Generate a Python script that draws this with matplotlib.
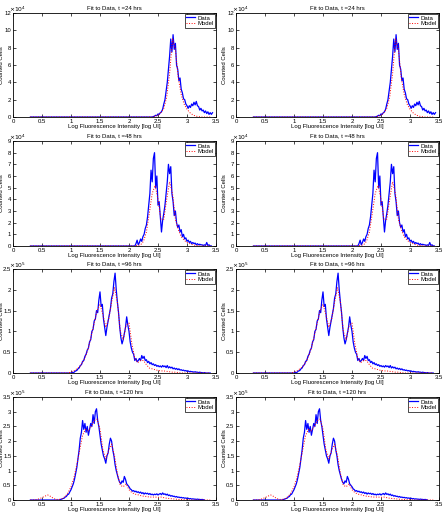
import numpy as np
import matplotlib
matplotlib.use('Agg')
import matplotlib.pyplot as plt

plt.rcParams['font.family'] = ['Liberation Sans', 'DejaVu Sans']

# panel titles, y-limits (in units of the exponent) and exponents
titles = ['Fit to Data, t =24 hrs', 'Fit to Data, t =48 hrs',
          'Fit to Data, t =96 hrs', 'Fit to Data, t =120 hrs']
exponents = [4, 4, 5, 5]
ymax = [12, 9, 2.5, 3.5]
ystep = [2, 1, 0.5, 0.5]

# measured histograms: first bin (log UI), bin step 0.02, values (x 10^exp)
data_start = [2.40, 2.10, 1.00, 0.80]
data_24 = [0, 0.05, 0.1, 0.2, 0.15, 0.35, 0.3, 0.5, 0.6, 0.9,
           1.5, 2.0, 3.0, 4.0, 5.5, 7.0, 9.0, 7.5, 9.5, 7.8,
           8.5, 6.0, 5.5, 4.2, 4.5, 3.2, 2.8, 2.1, 2.0, 1.5,
           1.3, 1.0, 1.3, 1.1, 1.5, 1.3, 1.7, 1.4, 1.8, 1.3,
           1.2, 0.8, 1.0, 0.7, 0.8, 0.5, 0.7, 0.4, 0.6, 0.3,
           0.5, 0.3, 0.5]
data_48 = [0, 0.2, 0.5, 0.1, 0.3, 0.6, 0.4, 0.8, 1.0, 1.5,
           1.8, 2.5, 3.5, 4.5, 6.5, 5.5, 7.5, 8.0, 5.0, 6.0,
           3.5, 3.8, 2.5, 1.2, 2.2, 2.8, 3.5, 4.5, 5.5, 7.0,
           6.2, 6.8, 4.5, 3.8, 2.6, 3.0, 2.0, 1.6, 1.8, 1.2,
           1.4, 0.8, 1.0, 0.6, 0.7, 0.4, 0.5, 0.3, 0.4, 0.2,
           0.3, 0.2, 0.25, 0.1, 0.2, 0.1, 0.15, 0.1, 0.1, 0.05,
           0.1, 0.05, 0.3, 0.05, 0.1, 0.0, 0.0]
data_96 = [0, 0.02, 0.0, 0.03, 0.05, 0.06, 0.1, 0.12, 0.18, 0.2,
           0.28, 0.3, 0.4, 0.45, 0.55, 0.6, 0.75, 0.8, 1.0, 1.05,
           1.25, 1.3, 1.5, 1.45, 1.75, 1.95, 1.6, 1.65, 1.3, 1.1,
           0.9, 1.1, 1.25, 1.4, 1.55, 1.8, 1.9, 2.2, 2.4, 2.0,
           1.7, 1.45, 1.1, 0.85, 0.7, 0.8, 0.95, 1.1, 1.35, 1.15,
           1.0, 0.75, 0.6, 0.5, 0.45, 0.3, 0.35, 0.27, 0.3, 0.35,
           0.3, 0.42, 0.35, 0.4, 0.3, 0.32, 0.25, 0.28, 0.22, 0.25,
           0.2, 0.22, 0.18, 0.2, 0.16, 0.18, 0.15, 0.17, 0.14, 0.18,
           0.15, 0.17, 0.13, 0.18, 0.12, 0.15, 0.12, 0.14, 0.1, 0.12,
           0.09, 0.11, 0.08, 0.1, 0.07, 0.08, 0.06, 0.07, 0.05, 0.06,
           0.04, 0.05, 0.03, 0.04, 0.03, 0.03, 0.02, 0.03, 0.02, 0.02,
           0.01, 0.02, 0.01, 0.01, 0.0, 0.01, 0.0, 0.0, 0.0, 0.0, 0.0]
data_120 = [0.0, 0.02, 0.03, 0.05, 0.06, 0.1, 0.12, 0.18, 0.2, 0.28,
            0.35, 0.45, 0.55, 0.7, 0.9, 1.1, 1.4, 1.7, 2.1, 2.3,
            2.7, 2.4, 2.6, 2.3, 2.5, 2.2, 2.4, 2.6, 2.5, 2.9,
            2.6, 3.0, 3.1, 2.7, 2.5, 2.2, 1.9, 1.7, 1.5, 1.4,
            1.25, 1.5, 1.6, 1.9, 2.1, 2.0, 1.7, 1.5, 1.2, 1.0,
            0.85, 0.7, 0.6, 0.55, 0.65, 0.6, 0.8, 0.7, 0.55, 0.5,
            0.45, 0.38, 0.35, 0.3, 0.32, 0.28, 0.3, 0.26, 0.28, 0.24,
            0.27, 0.22, 0.25, 0.2, 0.24, 0.21, 0.23, 0.19, 0.22, 0.18,
            0.2, 0.17, 0.2, 0.18, 0.21, 0.17, 0.2, 0.22, 0.18, 0.24,
            0.19, 0.21, 0.17, 0.2, 0.15, 0.17, 0.13, 0.15, 0.12, 0.13,
            0.1, 0.12, 0.09, 0.1, 0.08, 0.09, 0.07, 0.08, 0.06, 0.07,
            0.05, 0.06, 0.04, 0.05, 0.03, 0.04, 0.03, 0.03, 0.02, 0.03,
            0.02, 0.02, 0.01, 0.02, 0.01, 0.0]

# model fits on a 0.05 grid starting at 0.30 log UI (x 10^exp)
model_24 = [0.0] * 43 + [0.1, 0.2, 0.5, 1.0, 2.3, 5.0, 9.0, 7.8, 4.5, 2.6,
                         1.5, 0.9, 0.5, 0.25, 0.1, 0.05] + [0.0] * 4
model_48 = [0.0] * 37 + [0.05, 0.1, 0.4, 1.2, 2.8, 4.5, 5.2, 4.0, 2.3, 2.3,
                         4.0, 5.5, 4.5, 2.3, 1.4, 0.8, 0.5, 0.3, 0.2, 0.1,
                         0.05, 0.02] + [0.0] * 4
model_96 = [0.0] * 14 + [0.02, 0.05, 0.1, 0.15, 0.25, 0.4, 0.6, 0.9, 1.2, 1.5,
                         1.65, 1.4, 1.1, 1.3, 1.7, 2.05, 1.7, 1.0, 0.8, 1.15,
                         1.2, 0.7, 0.35, 0.25, 0.3, 0.3, 0.2, 0.12, 0.1, 0.08,
                         0.06, 0.05, 0.05, 0.04, 0.03, 0.02, 0.02, 0.01] + [0.0] * 11
model_120 = [0.0, 0.0, 0.01, 0.04, 0.08, 0.13, 0.17, 0.12, 0.05, 0.02,
             0.02, 0.05, 0.12, 0.25, 0.45, 0.75, 1.2, 1.7, 2.2, 2.4,
             2.35, 2.5, 2.7, 2.75, 2.4, 1.7, 1.4, 1.7, 1.9, 1.5,
             0.9, 0.5, 0.45, 0.55, 0.35, 0.25, 0.2, 0.18, 0.15, 0.13,
             0.12, 0.1, 0.1, 0.1, 0.09, 0.1, 0.08, 0.06, 0.05, 0.04,
             0.03, 0.02, 0.02, 0.01, 0.01] + [0.0] * 8

datasets = [data_24, data_48, data_96, data_120]
models = [model_24, model_48, model_96, model_120]

W, H = 446, 512
fig = plt.figure(figsize=(W / 100, H / 100), dpi=100)

col_left = [13, 236]
ax_w = 203
row_tb = [(13, 117), (141, 246), (269, 373), (397, 500)]

fs = 4.3
for r in range(4):
    vals = np.array(datasets[r])
    xd = np.concatenate([[0.30], data_start[r] + 0.02 * np.arange(len(vals))])
    yd = np.concatenate([[0.0], vals])
    mv = np.array(models[r])
    xm = 0.30 + 0.05 * np.arange(len(mv))
    top, bot = row_tb[r]
    for c in range(2):
        ax = fig.add_axes([col_left[c] / W, 1 - bot / H, ax_w / W, (bot - top) / H])
        ax.plot(xd, yd, color='#0000ff', lw=0.9, label='Data')
        ax.plot(xm, mv, color='#ff0000', lw=0.7, ls=':', label='Model')
        ax.set_xlim(0, 3.5)
        ax.set_ylim(0, ymax[r])
        ax.set_xticks(np.arange(0, 3.51, 0.5))
        ax.set_xticklabels(['0', '0.5', '1', '1.5', '2', '2.5', '3', '3.5'])
        yt = np.arange(0, ymax[r] + 1e-9, ystep[r])
        ax.set_yticks(yt)
        ax.set_yticklabels(['%g' % v for v in yt])
        ax.text(-0.02, 0.995, r'$\times10^{%d}$' % exponents[r], transform=ax.transAxes,
                fontsize=fs, ha='left', va='bottom')
        ax.tick_params(direction='in', labelsize=fs, length=2, width=0.5, pad=1.2,
                       top=True, right=True)
        for s in ax.spines.values():
            s.set_linewidth(0.6)
        ax.set_title(titles[r], fontsize=fs, pad=3)
        ax.set_xlabel('Log Fluorescence Intensity [log UI]', fontsize=fs, labelpad=0.3)
        ax.set_ylabel('Counted Cells', fontsize=fs)
        ax.yaxis.set_label_coords(-9.0 / ax_w, 0.5)
        leg = ax.legend(loc='upper right', fontsize=fs, handlelength=1.6,
                        borderpad=0.2, labelspacing=0.1, handletextpad=0.3,
                        borderaxespad=0.2, fancybox=False, framealpha=1)
        leg.get_frame().set_edgecolor('black')
        leg.get_frame().set_linewidth(0.5)

fig.savefig('out.png', dpi=100, facecolor='white')
